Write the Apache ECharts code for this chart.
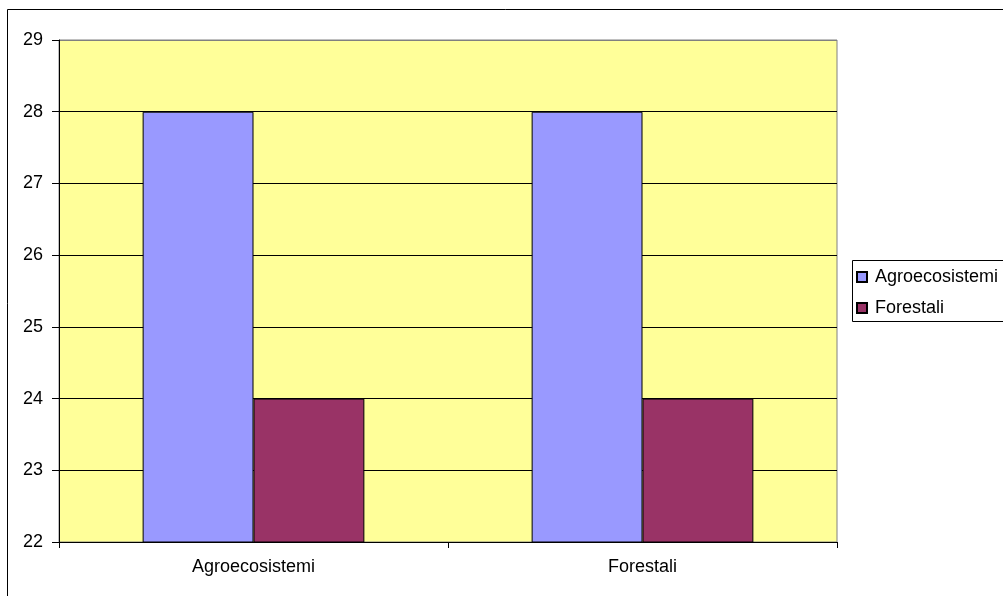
<!DOCTYPE html>
<html>
<head>
<meta charset="utf-8">
<script src="https://cdn.jsdelivr.net/npm/echarts@6/dist/echarts.min.js"></script>
<style>
  html, body { margin: 0; padding: 0; background: #fff; }
  #chart { width: 1003px; height: 596px; }
</style>
</head>
<body>
<div id="chart"></div>
<script>
// Categories along the x axis
const categories = ['Agroecosistemi', 'Forestali'];
// Series names and values
const seriesNames = ['Agroecosistemi', 'Forestali'];
const agroValues = [28, 28];
const forestValues = [24, 24];
// Value axis range
const yMin = 22;
const yMax = 29;
const yStep = 1;

const FONT = 'Liberation Sans, Arial, sans-serif';
const chart = echarts.init(document.getElementById('chart'), null, { renderer: 'canvas' });

// gridlines black, top edge of plot area grey
const tickCount = (yMax - yMin) / yStep + 1;
const splitColors = [];
for (let i = 0; i < tickCount; i++) splitColors.push(i === tickCount - 1 ? '#808080' : '#000000');

chart.setOption({
  animation: false,
  backgroundColor: '#ffffff',
  textStyle: { fontFamily: FONT },
  graphic: [
    { type: 'rect', shape: { x: 7.5, y: 9.5, width: 1010, height: 600 },
      style: { fill: 'none', stroke: '#000', lineWidth: 1 }, z: 100 },
    { type: 'rect', shape: { x: 852.5, y: 260.5, width: 170, height: 61 },
      style: { fill: '#fff', stroke: '#000', lineWidth: 1 }, z: 0 }
  ],
  grid: {
    left: 59, top: 40, right: 166, bottom: 54,
    show: true, backgroundColor: '#FFFF99', borderColor: '#808080', borderWidth: 1
  },
  legend: {
    orient: 'vertical', left: 856, top: 267, padding: 0,
    itemWidth: 10, itemHeight: 10, itemGap: 11,
    icon: 'rect',
    data: seriesNames,
    textStyle: { fontFamily: FONT, fontSize: 18, color: '#000', lineHeight: 20, padding: [0, 0, 0, 3] },
    z: 10
  },
  xAxis: {
    type: 'category', data: categories,
    axisLine: { lineStyle: { color: '#000', width: 1 } },
    axisTick: { show: true, length: 6, lineStyle: { color: '#000' } },
    axisLabel: { color: '#000', fontSize: 18, fontFamily: FONT, margin: 16 },
    splitLine: { show: false }
  },
  yAxis: {
    type: 'value', min: yMin, max: yMax, interval: yStep,
    axisLine: { show: true, lineStyle: { color: '#000', width: 1 } },
    axisTick: { show: true, length: 7, lineStyle: { color: '#000' } },
    axisLabel: { color: '#000', fontSize: 18, fontFamily: FONT, margin: 16 },
    splitLine: { show: true, lineStyle: { color: splitColors, width: 1 } }
  },
  series: [
    {
      name: seriesNames[0], type: 'bar', data: agroValues,
      barGap: '0%', barCategoryGap: '43%',
      itemStyle: { color: '#9999FF', borderColor: '#000', borderWidth: 1 }
    },
    {
      name: seriesNames[1], type: 'bar', data: forestValues,
      barGap: '0%', barCategoryGap: '43%',
      itemStyle: { color: '#993366', borderColor: '#000', borderWidth: 1 }
    }
  ]
});
</script>
</body>
</html>
